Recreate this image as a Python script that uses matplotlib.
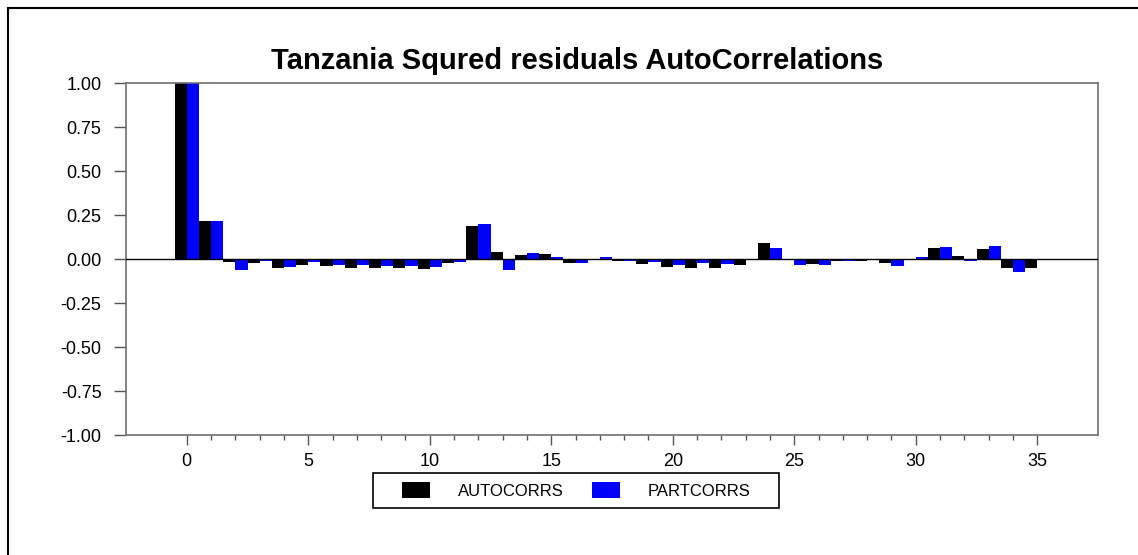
import matplotlib
matplotlib.use("Agg")
import matplotlib.pyplot as plt
from matplotlib.lines import Line2D
from matplotlib.patches import Patch, Rectangle
import numpy as np

plt.rcParams['font.family'] = ['Liberation Sans', 'DejaVu Sans']

title = "Tanzania Squred residuals AutoCorrelations"
lags = list(range(0, 36))
autocorrs = [1.0, 0.218, -0.015, -0.025, -0.049, -0.034, -0.042, -0.049, -0.053, -0.049,
             -0.055, -0.025, 0.188, 0.040, 0.021, 0.027, -0.025, -0.003, -0.011, -0.028,
             -0.047, -0.053, -0.053, -0.036, 0.093, 0.0, -0.028, -0.009, -0.009, -0.025,
             0.0, 0.064, 0.019, 0.055, -0.051, -0.051]
partcorrs = [1.0, 0.218, -0.064, -0.010, -0.045, -0.015, -0.036, -0.036, -0.038, -0.038,
             -0.044, -0.015, 0.197, -0.0625, 0.034, 0.011, -0.025, 0.011, -0.010, -0.015,
             -0.036, -0.025, -0.028, -0.008, 0.061, -0.036, -0.036, -0.013, 0.0, -0.042,
             0.009, 0.068, -0.009, 0.072, -0.072, 0.0]
series_names = ["AUTOCORRS", "PARTCORRS"]
yticks = [1.00, 0.75, 0.50, 0.25, 0.00, -0.25, -0.50, -0.75, -1.00]
xticks = [0, 5, 10, 15, 20, 25, 30, 35]

W, H = 1138, 555
fig = plt.figure(figsize=(W / 100, H / 100), dpi=100)
ax = fig.add_axes([126 / W, 1 - 435 / H, (1098 - 126) / W, (435 - 83) / H])

lx = np.array(lags, dtype=float)
ax.bar(lx - 0.25, autocorrs, width=0.5, color='black', edgecolor='none')
ax.bar(lx + 0.25, partcorrs, width=0.5, color='#0000ff', edgecolor='none')
ax.axhline(0, color='black', lw=1.0, zorder=3)

ax.set_xlim(-2.5, 37.5)
ax.set_ylim(-1, 1)
ax.set_yticks(yticks)
ax.set_yticklabels([f"{v:.2f}" for v in yticks])
ax.set_xticks(xticks)
ax.set_xticks(lags, minor=True)
ax.tick_params(axis='y', which='major', direction='out', length=8.6, width=1,
               color='#555555', labelsize=13, pad=9)
ax.tick_params(axis='x', which='major', direction='out', length=7.2, width=1,
               color='#555555', labelsize=13, pad=6)
ax.tick_params(axis='x', which='minor', direction='out', length=3.6, width=1, color='#555555')
for s in ax.spines.values():
    s.set_color('#707070')
    s.set_linewidth(1.2)

fig.text(577 / W, 1 - 69 / H, title, ha='center', va='baseline', fontsize=21, fontweight='bold')

handles = [Patch(facecolor='black', edgecolor='none'), Patch(facecolor='#0000ff', edgecolor='none')]
leg = fig.legend(handles, series_names, loc='center', bbox_to_anchor=(576 / W, 1 - 490.5 / H),
                 ncol=2, fontsize=12, frameon=False, handlelength=1.68,
                 handleheight=1.02, handletextpad=1.68, columnspacing=1.68, borderpad=0.5,
                 borderaxespad=0)
fig.add_artist(Rectangle((373 / W, 1 - 508 / H), (779 - 373) / W, (508 - 473) / H,
                         transform=fig.transFigure, fill=False, edgecolor='black', lw=1.2))

fig.add_artist(Line2D([8 / W, 8 / W], [0, 1 - 8 / H], color='black', lw=1.5))
fig.add_artist(Line2D([8 / W, 1], [1 - 8 / H, 1 - 8 / H], color='black', lw=1.5))

fig.savefig("out.png", dpi=100, facecolor='white')
